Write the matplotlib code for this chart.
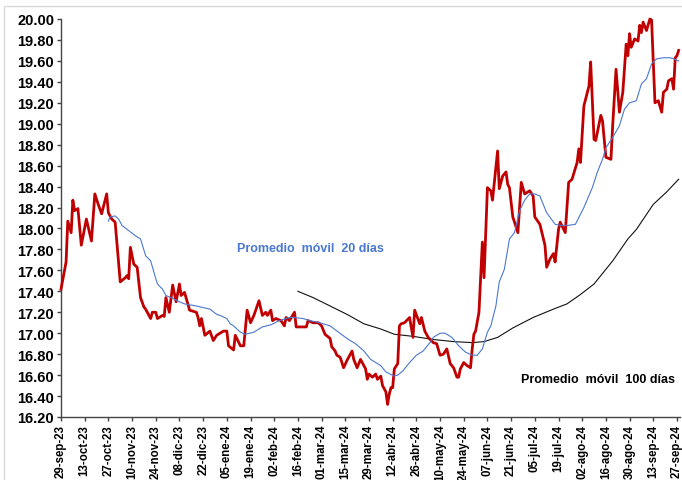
import matplotlib
matplotlib.use("Agg")
import matplotlib.pyplot as plt
from matplotlib.patches import Rectangle
import pandas as pd

plt.rcParams["font.family"] = ["Liberation Sans", "DejaVu Sans"]
plt.rcParams["font.weight"] = "bold"

# tipo de cambio diario
fx_dates = [
    "2023-09-29", "2023-10-02", "2023-10-03", "2023-10-05", "2023-10-06", "2023-10-07", "2023-10-09",
    "2023-10-11", "2023-10-14", "2023-10-17", "2023-10-19", "2023-10-21", "2023-10-23", "2023-10-26",
    "2023-10-27", "2023-10-29", "2023-10-31", "2023-11-03", "2023-11-06", "2023-11-07", "2023-11-08",
    "2023-11-09", "2023-11-11", "2023-11-13", "2023-11-15", "2023-11-17", "2023-11-18", "2023-11-21",
    "2023-11-22", "2023-11-24", "2023-11-25", "2023-11-28", "2023-11-29", "2023-11-30", "2023-12-02",
    "2023-12-04", "2023-12-06", "2023-12-08", "2023-12-09", "2023-12-11", "2023-12-14", "2023-12-18",
    "2023-12-19", "2023-12-20", "2023-12-21", "2023-12-23", "2023-12-26", "2023-12-28", "2023-12-30",
    "2024-01-03", "2024-01-05", "2024-01-06", "2024-01-09", "2024-01-10", "2024-01-13", "2024-01-15",
    "2024-01-17", "2024-01-19", "2024-01-21", "2024-01-24", "2024-01-26", "2024-01-28", "2024-01-29",
    "2024-01-31", "2024-02-01", "2024-02-03", "2024-02-06", "2024-02-08", "2024-02-09", "2024-02-11",
    "2024-02-14", "2024-02-15", "2024-02-21", "2024-02-22", "2024-02-25", "2024-02-28", "2024-03-01",
    "2024-03-03", "2024-03-06", "2024-03-07", "2024-03-09", "2024-03-10", "2024-03-12", "2024-03-14",
    "2024-03-16", "2024-03-19", "2024-03-20", "2024-03-22", "2024-03-24", "2024-03-27", "2024-03-28",
    "2024-03-29", "2024-03-31", "2024-04-02", "2024-04-03", "2024-04-05", "2024-04-06", "2024-04-08",
    "2024-04-09", "2024-04-10", "2024-04-11", "2024-04-12", "2024-04-13", "2024-04-15", "2024-04-16",
    "2024-04-17", "2024-04-19", "2024-04-22", "2024-04-24", "2024-04-25", "2024-04-28", "2024-04-29",
    "2024-05-01", "2024-05-03", "2024-05-06", "2024-05-08", "2024-05-10", "2024-05-12", "2024-05-14",
    "2024-05-16", "2024-05-18", "2024-05-20", "2024-05-21", "2024-05-22", "2024-05-24", "2024-05-26",
    "2024-05-28", "2024-05-29", "2024-05-30", "2024-05-31", "2024-06-02", "2024-06-04", "2024-06-05",
    "2024-06-07", "2024-06-09", "2024-06-10", "2024-06-13", "2024-06-14", "2024-06-16", "2024-06-18",
    "2024-06-19", "2024-06-20", "2024-06-22", "2024-06-25", "2024-06-27", "2024-06-29", "2024-07-02",
    "2024-07-04", "2024-07-05", "2024-07-08", "2024-07-11", "2024-07-12", "2024-07-14", "2024-07-16",
    "2024-07-17", "2024-07-19", "2024-07-20", "2024-07-23", "2024-07-25", "2024-07-27", "2024-07-30",
    "2024-07-31", "2024-08-01", "2024-08-03", "2024-08-06", "2024-08-07", "2024-08-09", "2024-08-10",
    "2024-08-13", "2024-08-14", "2024-08-16", "2024-08-19", "2024-08-20", "2024-08-22", "2024-08-24",
    "2024-08-26", "2024-08-28", "2024-08-29", "2024-08-30", "2024-08-31", "2024-09-02", "2024-09-04",
    "2024-09-05", "2024-09-06", "2024-09-07", "2024-09-09", "2024-09-11", "2024-09-12", "2024-09-14",
    "2024-09-16", "2024-09-18", "2024-09-19", "2024-09-21", "2024-09-22", "2024-09-24", "2024-09-25",
    "2024-09-26", "2024-09-27", "2024-09-28",
]
fx_values = [
    17.42, 17.68, 18.07, 17.96, 18.27, 18.17, 18.19,
    17.84, 18.09, 17.88, 18.33, 18.23, 18.14, 18.33,
    18.15, 18.09, 18.06, 17.49, 17.53, 17.55, 17.52,
    17.82, 17.66, 17.63, 17.34, 17.25, 17.23, 17.14,
    17.20, 17.20, 17.14, 17.17, 17.16, 17.34, 17.20,
    17.46, 17.30, 17.47, 17.36, 17.39, 17.22, 17.20,
    17.15, 17.07, 17.14, 16.98, 17.02, 16.93, 16.98,
    17.02, 17.02, 16.88, 16.84, 16.98, 16.88, 16.88,
    17.22, 17.10, 17.17, 17.31, 17.17, 17.20, 17.17,
    17.22, 17.12, 17.14, 17.12, 17.07, 17.15, 17.12,
    17.20, 17.06, 17.06, 17.12, 17.10, 17.10, 17.07,
    16.99, 16.95, 16.87, 16.83, 16.79, 16.77, 16.67,
    16.74, 16.83, 16.75, 16.67, 16.75, 16.66, 16.56,
    16.61, 16.58, 16.61, 16.56, 16.59, 16.50, 16.44,
    16.32, 16.42, 16.48, 16.48, 16.66, 16.71, 17.07,
    17.09, 17.10, 17.15, 16.96, 17.22, 17.09, 17.15,
    17.02, 16.96, 16.91, 16.90, 16.79, 16.80, 16.85,
    16.71, 16.67, 16.58, 16.58, 16.66, 16.72, 16.69,
    16.67, 16.85, 16.99, 17.02, 17.20, 17.87, 17.53,
    18.39, 18.36, 18.27, 18.74, 18.38, 18.50, 18.54,
    18.42, 18.39, 18.11, 17.96, 18.44, 18.33, 18.36,
    18.31, 18.11, 18.04, 17.84, 17.63, 17.71, 17.76,
    17.68, 17.99, 18.06, 17.96, 18.44, 18.47, 18.63,
    18.76, 18.63, 19.17, 19.36, 19.59, 18.85, 18.84,
    19.08, 19.03, 18.68, 18.66, 18.98, 19.52, 19.11,
    19.30, 19.76, 19.65, 19.86, 19.73, 19.81, 19.79,
    19.94, 19.87, 19.97, 19.89, 20.00, 19.99, 19.20,
    19.22, 19.11, 19.30, 19.33, 19.41, 19.43, 19.33,
    19.63, 19.65, 19.70,
]

# promedio movil 20 dias
ma20_dates = [
    "2023-10-27", "2023-10-28", "2023-10-31", "2023-11-02", "2023-11-04", "2023-11-08", "2023-11-12",
    "2023-11-15", "2023-11-18", "2023-11-21", "2023-11-24", "2023-11-25", "2023-11-28", "2023-11-30",
    "2023-12-03", "2023-12-08", "2023-12-11", "2023-12-18", "2023-12-26", "2023-12-30", "2024-01-01",
    "2024-01-05", "2024-01-07", "2024-01-09", "2024-01-13", "2024-01-16", "2024-01-21", "2024-01-26",
    "2024-01-31", "2024-02-05", "2024-02-11", "2024-02-14", "2024-02-19", "2024-02-23", "2024-02-29",
    "2024-03-06", "2024-03-11", "2024-03-16", "2024-03-21", "2024-03-26", "2024-03-30", "2024-04-05",
    "2024-04-08", "2024-04-13", "2024-04-15", "2024-04-18", "2024-04-22", "2024-04-26", "2024-04-30",
    "2024-05-04", "2024-05-06", "2024-05-10", "2024-05-13", "2024-05-17", "2024-05-21", "2024-05-25",
    "2024-05-29", "2024-06-01", "2024-06-04", "2024-06-07", "2024-06-09", "2024-06-12", "2024-06-14",
    "2024-06-17", "2024-06-20", "2024-06-23", "2024-06-26", "2024-06-29", "2024-07-02", "2024-07-05",
    "2024-07-08", "2024-07-12", "2024-07-17", "2024-07-20", "2024-07-25", "2024-07-29", "2024-08-03",
    "2024-08-08", "2024-08-11", "2024-08-14", "2024-08-16", "2024-08-20", "2024-08-24", "2024-08-27",
    "2024-08-30", "2024-09-03", "2024-09-06", "2024-09-09", "2024-09-12", "2024-09-15", "2024-09-19",
    "2024-09-23", "2024-09-25", "2024-09-28",
]
ma20_values = [
    18.07, 18.11, 18.12, 18.09, 18.03, 17.98, 17.93,
    17.90, 17.74, 17.69, 17.52, 17.47, 17.42, 17.36,
    17.34, 17.30, 17.28, 17.26, 17.23, 17.18, 17.17,
    17.14, 17.09, 17.07, 17.01, 16.99, 17.01, 17.06,
    17.08, 17.12, 17.15, 17.15, 17.14, 17.12, 17.10,
    17.07, 17.01, 16.95, 16.90, 16.83, 16.75, 16.69,
    16.63, 16.59, 16.60, 16.64, 16.72, 16.79, 16.83,
    16.91, 16.96, 17.00, 17.00, 16.96, 16.88, 16.82,
    16.79, 16.79, 16.85, 17.01, 17.07, 17.26, 17.49,
    17.61, 17.90, 17.96, 18.17, 18.27, 18.33, 18.33,
    18.31, 18.15, 18.04, 18.03, 18.03, 18.04, 18.20,
    18.39, 18.54, 18.66, 18.77, 18.87, 18.98, 19.14,
    19.20, 19.22, 19.38, 19.43, 19.57, 19.62, 19.63,
    19.63, 19.62, 19.60,
]

# promedio movil 100 dias
ma100_dates = [
    "2024-02-16", "2024-02-25", "2024-03-06", "2024-03-16", "2024-03-26", "2024-04-05", "2024-04-13",
    "2024-04-24", "2024-05-06", "2024-05-18", "2024-05-29", "2024-06-05", "2024-06-13", "2024-06-22",
    "2024-07-04", "2024-07-16", "2024-07-24", "2024-08-01", "2024-08-09", "2024-08-20", "2024-08-29",
    "2024-09-03", "2024-09-13", "2024-09-21", "2024-09-28",
]
ma100_values = [
    17.40, 17.34, 17.26, 17.18, 17.09, 17.04, 16.99,
    16.97, 16.94, 16.92, 16.91, 16.92, 16.96, 17.05,
    17.15, 17.23, 17.28, 17.37, 17.47, 17.69, 17.90,
    17.99, 18.23, 18.35, 18.47,
]

tick_labels = [
    "29-sep-23", "13-oct-23", "27-oct-23", "10-nov-23", "24-nov-23", "08-dic-23", "22-dic-23",
    "05-ene-24", "19-ene-24", "02-feb-24", "16-feb-24", "01-mar-24", "15-mar-24", "29-mar-24",
    "12-abr-24", "26-abr-24", "10-may-24", "24-may-24", "07-jun-24", "21-jun-24", "05-jul-24",
    "19-jul-24", "02-ago-24", "16-ago-24", "30-ago-24", "13-sep-24", "27-sep-24",
]

fig = plt.figure(figsize=(6.82, 4.81), dpi=100)
ax = fig.add_axes([61 / 682, 1 - 418 / 481, 619 / 682, 398 / 481])

ax.plot(pd.to_datetime(fx_dates), fx_values, color="#C00000", lw=2.0, zorder=3, clip_on=False)
ax.plot(pd.to_datetime(ma20_dates), ma20_values, color="#4A78D0", lw=0.8, zorder=4)
ax.plot(pd.to_datetime(ma100_dates), ma100_values, color="#111111", lw=0.8, zorder=2)

start = pd.Timestamp("2023-09-29")
ax.set_xlim(start, start + pd.Timedelta(days=365.8))
ax.set_ylim(16.2, 20.0)

ticks = pd.date_range(start, periods=len(tick_labels), freq="14D")
ax.set_xticks(ticks)
ax.set_xticklabels(tick_labels, rotation=90, fontsize=8.3, fontweight="bold")
yt = [16.2 + 0.2 * i for i in range(20)]
ax.set_yticks(yt)
ax.set_yticklabels([f"{v:.2f}" for v in yt], fontsize=10.5, fontweight="bold")
ax.tick_params(axis="both", direction="out", length=3, width=1, color="#444444", pad=2)

for s in ["top", "right"]:
    ax.spines[s].set_visible(False)
for s in ["left", "bottom"]:
    ax.spines[s].set_color("#444444")
    ax.spines[s].set_linewidth(1)

ax.text(pd.Timestamp("2024-01-11"), 17.81, "Promedio  móvil  20 días", color="#4A78D0",
        fontsize=9, fontweight="bold", ha="left", va="center")
ax.text(pd.Timestamp("2024-09-26"), 16.56, "Promedio  móvil  100 días", color="black",
        fontsize=9, fontweight="bold", ha="right", va="center")

fig.patches.append(Rectangle((4 / 682, -0.1), 2, 1 - 7 / 481 + 0.1, transform=fig.transFigure,
                             fill=False, edgecolor="#d9d9d9", lw=1))

fig.savefig("out.png", dpi=100)
